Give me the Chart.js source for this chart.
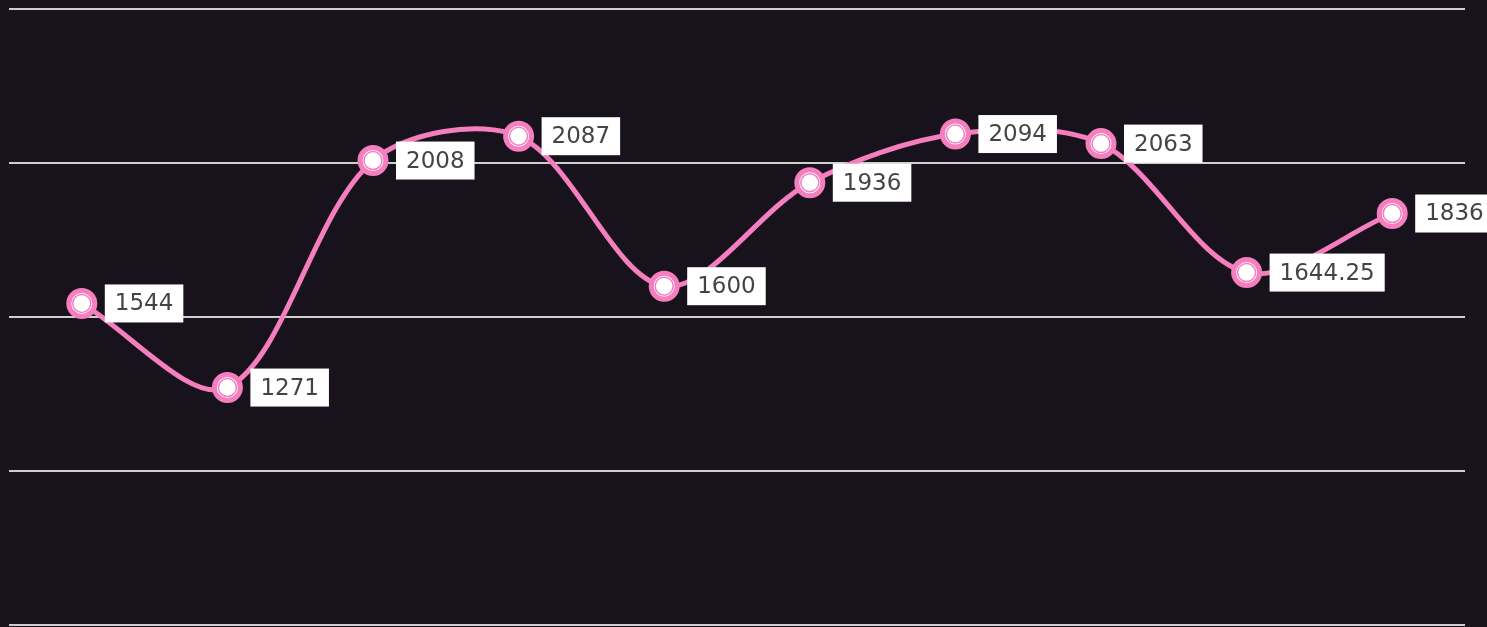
<!DOCTYPE html>
<html>
<head>
<meta charset="utf-8">
<script src="https://cdn.jsdelivr.net/npm/chart.js@4"></script>
<style>
  html, body { margin: 0; padding: 0; background: #17121c; }
  #wrap { width: 1487px; height: 627px; }
</style>
</head>
<body>
<div id="wrap"><canvas id="grafica"></canvas></div>
<script>
var categorias = ["1", "2", "3", "4", "5", "6", "7", "8", "9", "10"];
var valores = [1544, 1271, 2008, 2087, 1600, 1936, 2094, 2063, 1644.25, 1836];
var etiquetas = ["1544", "1271", "2008", "2087", "1600", "1936", "2094", "2063", "1644.25", "1836"];
var rosa = '#f57ebe';

// cajas blancas con el valor a la derecha de cada punto
var cajas = {
    id: 'cajas',
    afterDatasetsDraw: function (chart) {
        var c = chart.ctx;
        var meta = chart.getDatasetMeta(0);
        c.save();
        c.font = '23px "DejaVu Sans"';
        c.textBaseline = 'middle';
        meta.data.forEach(function (p, i) {
            var txt = etiquetas[i];
            var w = c.measureText(txt).width + 20;
            var h = 38;
            var x = p.x + 23;
            var y = p.y - h / 2;
            c.fillStyle = '#ffffff';
            c.fillRect(x, y, w, h);
            c.fillStyle = '#444444';
            c.fillText(txt, x + 10, p.y + 1);
        });
        c.restore();
    }
};

var ctx = document.getElementById("grafica").getContext('2d');
var grafica = new Chart(ctx, {
    type: 'line',
    data: {
        labels: categorias,
        datasets: [{
            data: valores,
            order: 2,
            borderColor: rosa,
            borderWidth: 5,
            tension: 0.32,
            pointRadius: 13,
            pointBorderWidth: 5,
            pointBorderColor: rosa,
            pointBackgroundColor: '#ffffff'
        }, {
            data: valores,
            order: 1,
            showLine: false,
            pointRadius: 9,
            pointBorderWidth: 1.5,
            pointBorderColor: rosa,
            pointBackgroundColor: '#ffffff'
        }]
    },
    options: {
        responsive: true,
        maintainAspectRatio: false,
        animation: false,
        layout: { autoPadding: false, padding: { left: 9, right: 22, top: 9, bottom: 2 } },
        plugins: { legend: { display: false }, tooltip: { enabled: false } },
        scales: {
            x: { display: false, offset: true },
            y: {
                min: 500,
                max: 2500,
                ticks: { display: false, stepSize: 500 },
                border: { display: false },
                grid: { color: '#cfcfcf', lineWidth: 2, drawTicks: false }
            }
        }
    },
    plugins: [cajas]
});
</script>
</body>
</html>
